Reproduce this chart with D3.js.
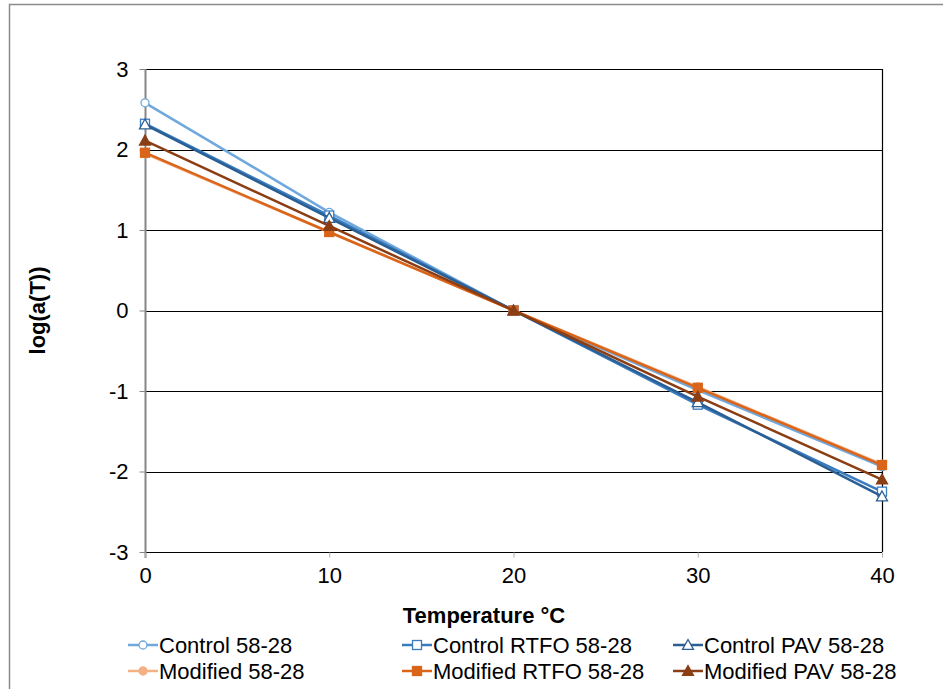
<!DOCTYPE html>
<html>
<head>
<meta charset="utf-8">
<script src="https://cdn.jsdelivr.net/npm/d3@7"></script>
<style>
  body { margin: 0; background: #fff; }
  svg { display: block; font-family: "Liberation Sans", Arial, sans-serif; }
</style>
</head>
<body>
<svg id="chart" width="943" height="689"></svg>
<script>
// Chart data
const temps = [0, 10, 20, 30, 40];
const control5828 = [2.58, 1.22, 0, -0.99, -1.94];
const controlRTFO = [2.32, 1.18, 0, -1.17, -2.25];
const controlPAV = [2.31, 1.15, 0, -1.14, -2.31];
const modified5828 = [1.95, 0.97, 0, -0.95, -1.91];
const modifiedRTFO = [1.96, 0.975, 0, -0.96, -1.92];
const modifiedPAV = [2.11, 1.05, 0, -1.07, -2.1];
const yTicks = [3, 2, 1, 0, -1, -2, -3];
const xTicks = [0, 10, 20, 30, 40];

const seriesNames = ['Control 58-28', 'Control RTFO 58-28', 'Control PAV 58-28',
                     'Modified 58-28', 'Modified RTFO 58-28', 'Modified PAV 58-28'];
const seriesValues = [control5828, controlRTFO, controlPAV, modified5828, modifiedRTFO, modifiedPAV];
const seriesColors = ['#6fa8dc', '#3a7cc0', '#2b5f93', '#f4b183', '#d9641a', '#8b3e14'];
const seriesMarkers = ['circle', 'square', 'triangle', 'circle', 'square', 'triangle'];
const seriesFilled = [false, false, false, true, true, true];

const FONT = 22;
const svg = d3.select('#chart');
const margin = { left: 145, right: 882, top: 69, bottom: 552 };

// Outer frame (only top and left edges are in view)
svg.append('path')
    .attr('d', 'M9.5,689 V4.5 H943')
    .attr('fill', 'none')
    .attr('stroke', '#8c8c8c')
    .attr('stroke-width', 1.5);

const x = d3.scaleLinear().domain([0, 40]).range([margin.left, margin.right]);
const y = d3.scaleLinear().domain([-3, 3]).range([margin.bottom, margin.top]);

// Horizontal gridlines
svg.append('g')
    .selectAll('line')
    .data(yTicks)
    .join('line')
    .attr('x1', margin.left)
    .attr('x2', margin.right)
    .attr('y1', d => Math.round(y(d)) + 0.5)
    .attr('y2', d => Math.round(y(d)) + 0.5)
    .attr('stroke', '#000')
    .attr('stroke-width', 1);

// Right border of plot area
svg.append('line')
    .attr('x1', margin.right + 0.5).attr('x2', margin.right + 0.5)
    .attr('y1', margin.top).attr('y2', margin.bottom)
    .attr('stroke', '#000').attr('stroke-width', 1.2);

// Y axis
const yAxis = d3.axisLeft(y).tickValues(yTicks).tickSize(6).tickPadding(8)
    .tickFormat(d => String(d));
const gy = svg.append('g')
    .attr('transform', `translate(${margin.left + 0.5},0)`)
    .call(yAxis);
gy.select('.domain').attr('stroke', '#868686').attr('stroke-width', 2)
    .attr('d', `M0,${margin.top}V${margin.bottom + 6}`);
gy.selectAll('.tick line').attr('stroke', '#868686');
gy.selectAll('.tick text')
    .attr('font-size', FONT)
    .attr('fill', '#000')
    .attr('font-family', '"Liberation Sans", Arial, sans-serif')
    .attr('dx', -3);

// X axis
const xAxis = d3.axisBottom(x).tickValues(xTicks).tickSize(5).tickPadding(10)
    .tickFormat(d => String(d));
const gx = svg.append('g')
    .attr('transform', `translate(0,${margin.bottom + 0.5})`)
    .call(xAxis);
gx.select('.domain').remove();
gx.selectAll('.tick line').attr('stroke', '#b0b0b0');
gx.selectAll('.tick text')
    .attr('font-size', FONT)
    .attr('fill', '#000')
    .attr('font-family', '"Liberation Sans", Arial, sans-serif');

// Axis titles
svg.append('text')
    .attr('x', 484)
    .attr('y', 623)
    .attr('text-anchor', 'middle')
    .attr('font-size', FONT)
    .attr('font-weight', 'bold')
    .text('Temperature °C');

svg.append('text')
    .attr('transform', `translate(45,${(margin.top + margin.bottom) / 2}) rotate(-90)`)
    .attr('text-anchor', 'middle')
    .attr('font-size', FONT)
    .attr('font-weight', 'bold')
    .text('log(a(T))');

// Marker drawing helper
function drawMarker(g, type, color, filled, cx, cy) {
    const fill = filled ? color : '#fff';
    if (type === 'circle') {
        g.append('circle').attr('cx', cx).attr('cy', cy).attr('r', 4)
            .attr('fill', fill).attr('stroke', color).attr('stroke-width', 1.3);
    } else if (type === 'square') {
        g.append('rect').attr('x', cx - 4.5).attr('y', cy - 4.5).attr('width', 9).attr('height', 9)
            .attr('fill', fill).attr('stroke', color).attr('stroke-width', 1.3);
    } else {
        const s = 5.5;
        g.append('path')
            .attr('d', `M${cx},${cy - s}L${cx + s},${cy + s * 0.8}L${cx - s},${cy + s * 0.8}Z`)
            .attr('fill', fill).attr('stroke', color).attr('stroke-width', 1.3);
    }
}

// Series lines and markers
const line = d3.line().x((d, i) => x(temps[i])).y(d => y(d));
seriesValues.forEach((vals, si) => {
    const g = svg.append('g');
    g.append('path')
        .datum(vals)
        .attr('d', line)
        .attr('fill', 'none')
        .attr('stroke', seriesColors[si])
        .attr('stroke-width', 2.5);
    vals.forEach((v, i) => drawMarker(g, seriesMarkers[si], seriesColors[si], seriesFilled[si], x(temps[i]), y(v)));
});

// Legend
const legendCols = [128, 402, 673];
const legendRows = [645, 671];
seriesNames.forEach((name, si) => {
    const lx = legendCols[si % 3];
    const ly = legendRows[Math.floor(si / 3)];
    const g = svg.append('g');
    g.append('line')
        .attr('x1', lx).attr('x2', lx + 30)
        .attr('y1', ly).attr('y2', ly)
        .attr('stroke', seriesColors[si]).attr('stroke-width', 2.5);
    drawMarker(g, seriesMarkers[si], seriesColors[si], seriesFilled[si], lx + 15, ly);
    g.append('text')
        .attr('x', lx + 31)
        .attr('y', ly + 8)
        .attr('font-size', FONT)
        .attr('fill', '#000')
        .text(name);
});
</script>
</body>
</html>
